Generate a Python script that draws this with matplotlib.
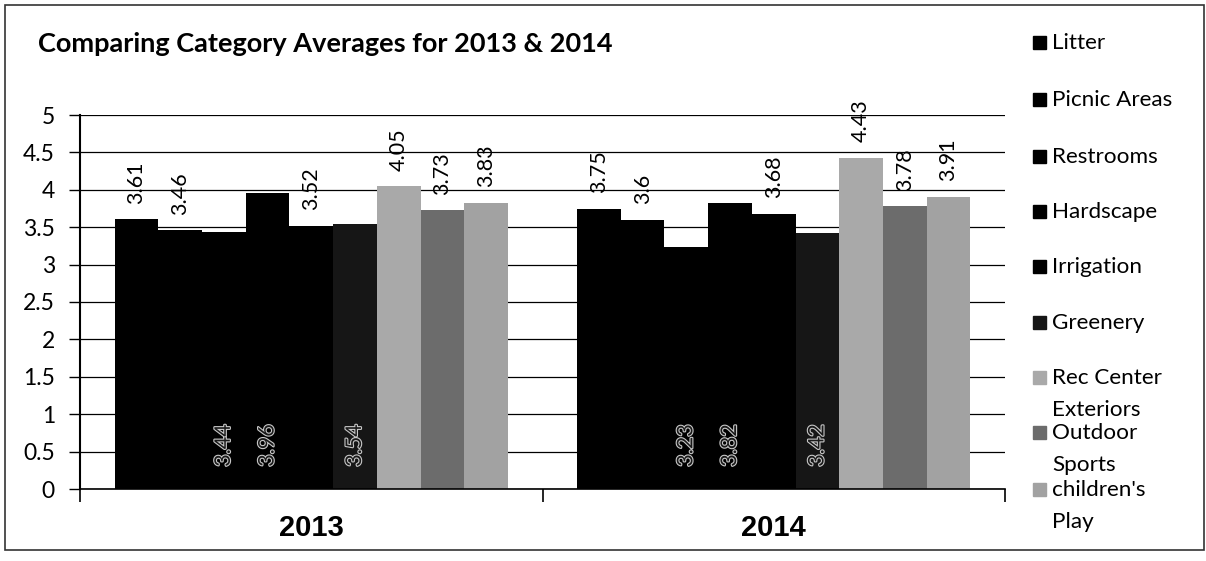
import matplotlib
matplotlib.use("Agg")
import matplotlib.pyplot as plt
import matplotlib.patheffects as pe
from matplotlib.patches import Rectangle
import numpy as np

years = ["2013", "2014"]
series = ["Litter", "Picnic Areas", "Restrooms", "Hardscape", "Irrigation",
          "Greenery", "Rec Center\nExteriors", "Outdoor\nSports", "children's\nPlay"]
values_2013 = [3.61, 3.46, 3.44, 3.96, 3.52, 3.54, 4.05, 3.73, 3.83]
values_2014 = [3.75, 3.6, 3.23, 3.82, 3.68, 3.42, 4.43, 3.78, 3.91]
# labels Excel pushed down to the bar base
inside_2013 = [2, 3, 5]
inside_2014 = [2, 3, 5]

colors = ["#000000", "#000000", "#000000", "#000000", "#000000",
          "#161616", "#a9a9a9", "#6c6c6c", "#a2a2a2"]

plt.rcParams['font.family'] = ['Lato', 'DejaVu Sans']

fig = plt.figure(figsize=(12.06, 5.61), dpi=100)
ax = fig.add_axes([80/1206, 1 - 489/561, 925/1206, 374/561])

data = np.array([values_2013, values_2014])
inside = [inside_2013, inside_2014]
x = np.arange(len(years))
n = len(series)
width = 0.0945
offsets = (np.arange(n) - (n - 1) / 2) * width

for j in range(n):
    bars = ax.bar(x + offsets[j], data[:, j], width, color=colors[j],
                  edgecolor='none', zorder=2)
    for i, b in enumerate(bars):
        cx = b.get_x() + b.get_width() / 2
        if j in inside[i]:
            t = ax.annotate(f"{data[i, j]:g}", (cx, 0), xytext=(0, 16),
                            textcoords='offset points', rotation=90,
                            ha='center', va='bottom', fontsize=15.5,
                            color='#1a1a1a', zorder=3)
            t.set_path_effects([pe.Stroke(linewidth=1.6, foreground='#c8c8c8'),
                                pe.Normal()])
        else:
            ax.annotate(f"{data[i, j]:g}", (cx, data[i, j]), xytext=(0, 11),
                        textcoords='offset points', rotation=90,
                        ha='center', va='bottom', fontsize=15.5, color='black')

ax.set_xlim(-0.5, 1.5)
ax.set_ylim(0, 5)
ax.set_yticks(np.arange(0, 5.01, 0.5))
ax.set_yticklabels([f"{v:g}" for v in np.arange(0, 5.01, 0.5)], fontsize=16.5)
ax.yaxis.grid(True, color='black', linewidth=0.9, zorder=0)
ax.set_axisbelow(True)
ax.tick_params(axis='y', length=8, width=1, pad=10)
ax.set_xticks([-0.5, 0.5, 1.5])
ax.set_xticklabels(["", "", ""])
ax.tick_params(axis='x', length=9, width=1.2)
for xi, yr in zip(x, years):
    ax.text(xi, -0.33, yr, transform=ax.transData, ha='center', va='top',
            fontsize=21, fontweight='bold', family='Liberation Sans')
for s in ['top', 'right']:
    ax.spines[s].set_visible(False)
ax.spines['left'].set_linewidth(1.5)
ax.spines['bottom'].set_linewidth(1.2)

fig.text(38/1206, 1 - 44/561, "Comparing Category Averages for 2013 & 2014",
         fontsize=19.5, fontweight='bold', ha='left', va='center')

# legend drawn by hand to match Excel's cramped wrapping
leg_y = [43, 100, 157, 212, 267, 323, 378, 433, 490]
for j, name in enumerate(series):
    y0 = leg_y[j]
    fig.patches.append(Rectangle((1033/1206, 1 - (y0 + 6)/561), 13/1206, 13/561,
                                 transform=fig.transFigure, color=colors[j]))
    for k, line in enumerate(name.split("\n")):
        fig.text(1052/1206, 1 - (y0 + 32*k)/561, line, fontsize=16.2,
                 ha='left', va='center')

fig.patches.append(Rectangle((5/1206, 1 - 550/561), 1199/1206, 545/561,
                             transform=fig.transFigure, fill=False,
                             edgecolor='#333333', linewidth=1.2))

fig.savefig("out.png", dpi=100)
